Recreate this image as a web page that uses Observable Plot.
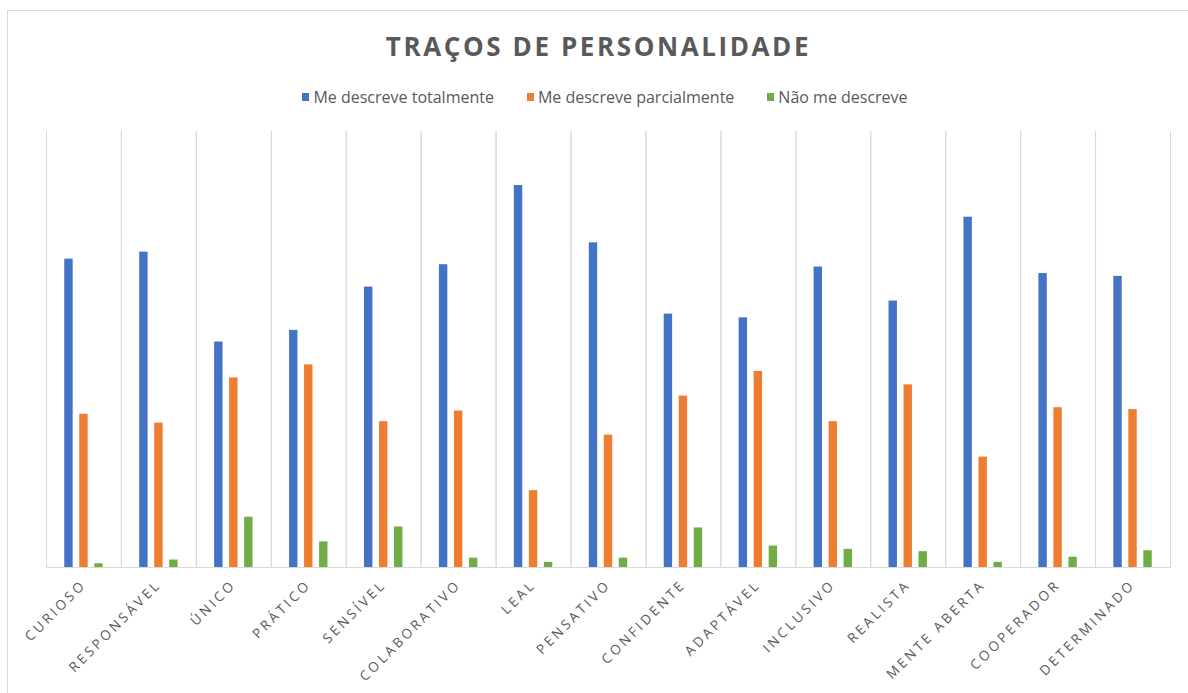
<!DOCTYPE html>
<html>
<head>
<meta charset="utf-8">
<script src="https://cdn.jsdelivr.net/npm/d3@7"></script>
<script src="https://cdn.jsdelivr.net/npm/@observablehq/plot@0.6"></script>
<style>
  html, body { margin: 0; padding: 0; background: #fff; overflow: hidden; }
  body { width: 1188px; height: 693px; position: relative; font-family: "Open Sans", sans-serif; color: #595959; }
  #frame { position: absolute; left: 7px; top: 10px; width: 1190px; height: 720px; border: 1px solid #d9d9d9; box-sizing: border-box; }
  #header { position: relative; height: 120px; }
  #title { position: absolute; top: 29px; left: 0; width: 1197px; text-align: center; font-size: 26px; font-weight: 700; letter-spacing: 2.6px; color: #595959; line-height: 34px; }
  #legend { position: absolute; top: 86px; left: 0; width: 1210px; display: flex; justify-content: center; gap: 33px; font-size: 16px; color: #595959; line-height: 22px; }
  .item { display: flex; align-items: center; gap: 4px; }
  .sw { width: 7px; height: 8px; display: inline-block; }
  #chart { position: relative; }
  #chart svg g[aria-label="fx-axis tick label"] text { letter-spacing: 3px; }
</style>
</head>
<body>
<div id="frame"></div>
<div id="header">
  <div id="title"></div>
  <div id="legend"></div>
</div>
<div id="chart"></div>
<script>
const categories = ["CURIOSO","RESPONSÁVEL","ÚNICO","PRÁTICO","SENSÍVEL","COLABORATIVO","LEAL","PENSATIVO","CONFIDENTE","ADAPTÁVEL","INCLUSIVO","REALISTA","MENTE ABERTA","COOPERADOR","DETERMINADO"];
const series = ["Me descreve totalmente","Me descreve parcialmente","Não me descreve"];
const totalmente   = [66.2, 67.7, 48.4, 50.9, 60.2, 65.0, 82.0, 69.7, 54.4, 53.6, 64.5, 57.2, 75.2, 63.1, 62.5];
const parcialmente = [32.9, 31.0, 40.7, 43.5, 31.3, 33.6, 16.5, 28.4, 36.8, 42.1, 31.3, 39.2, 23.7, 34.3, 33.9];
const naoDescreve  = [ 0.8,  1.6, 10.8,  5.5,  8.7,  2.0,  1.1,  2.0,  8.5,  4.6,  3.9,  3.4,  1.1,  2.2,  3.6];
const colors = ["#4472C4", "#ED7D31", "#70AD47"];
const titleText = "TRAÇOS DE PERSONALIDADE";

const valuesBySeries = [totalmente, parcialmente, naoDescreve];
const data = categories.flatMap((c, i) => series.map((s, j) => ({cat: c, serie: s, v: valuesBySeries[j][i]})));

document.getElementById("title").textContent = titleText;
const legend = document.getElementById("legend");
series.forEach((s, j) => {
  const it = document.createElement("div");
  it.className = "item";
  const sw = document.createElement("span");
  sw.className = "sw";
  sw.style.background = colors[j];
  const tx = document.createElement("span");
  tx.textContent = s;
  it.appendChild(sw); it.appendChild(tx);
  legend.appendChild(it);
});

const chart = Plot.plot({
  width: 1188,
  height: 573,
  marginTop: 11,
  marginBottom: 126,
  marginLeft: 46,
  marginRight: 18,
  style: {fontFamily: "Open Sans, sans-serif", fontSize: "13.5px", color: "#595959", background: "transparent"},
  fx: {domain: categories, padding: 0, round: false, label: null, axis: "bottom", tickRotate: -45, tickSize: 0, tickPadding: 15},
  x: {domain: series, paddingInner: 0.44, paddingOuter: 1.217, round: false, axis: null},
  y: {domain: [0, 93.6], axis: null},
  color: {domain: series, range: colors},
  marks: [
    Plot.frame({anchor: "left", stroke: "#d9d9d9"}),
    Plot.frame({anchor: "right", stroke: "#d9d9d9"}),
    Plot.barY(data, {fx: "cat", x: "serie", y: "v", fill: "serie"}),
    Plot.ruleY([0], {stroke: "#d9d9d9"})
  ]
});
document.getElementById("chart").appendChild(chart);
</script>
</body>
</html>
